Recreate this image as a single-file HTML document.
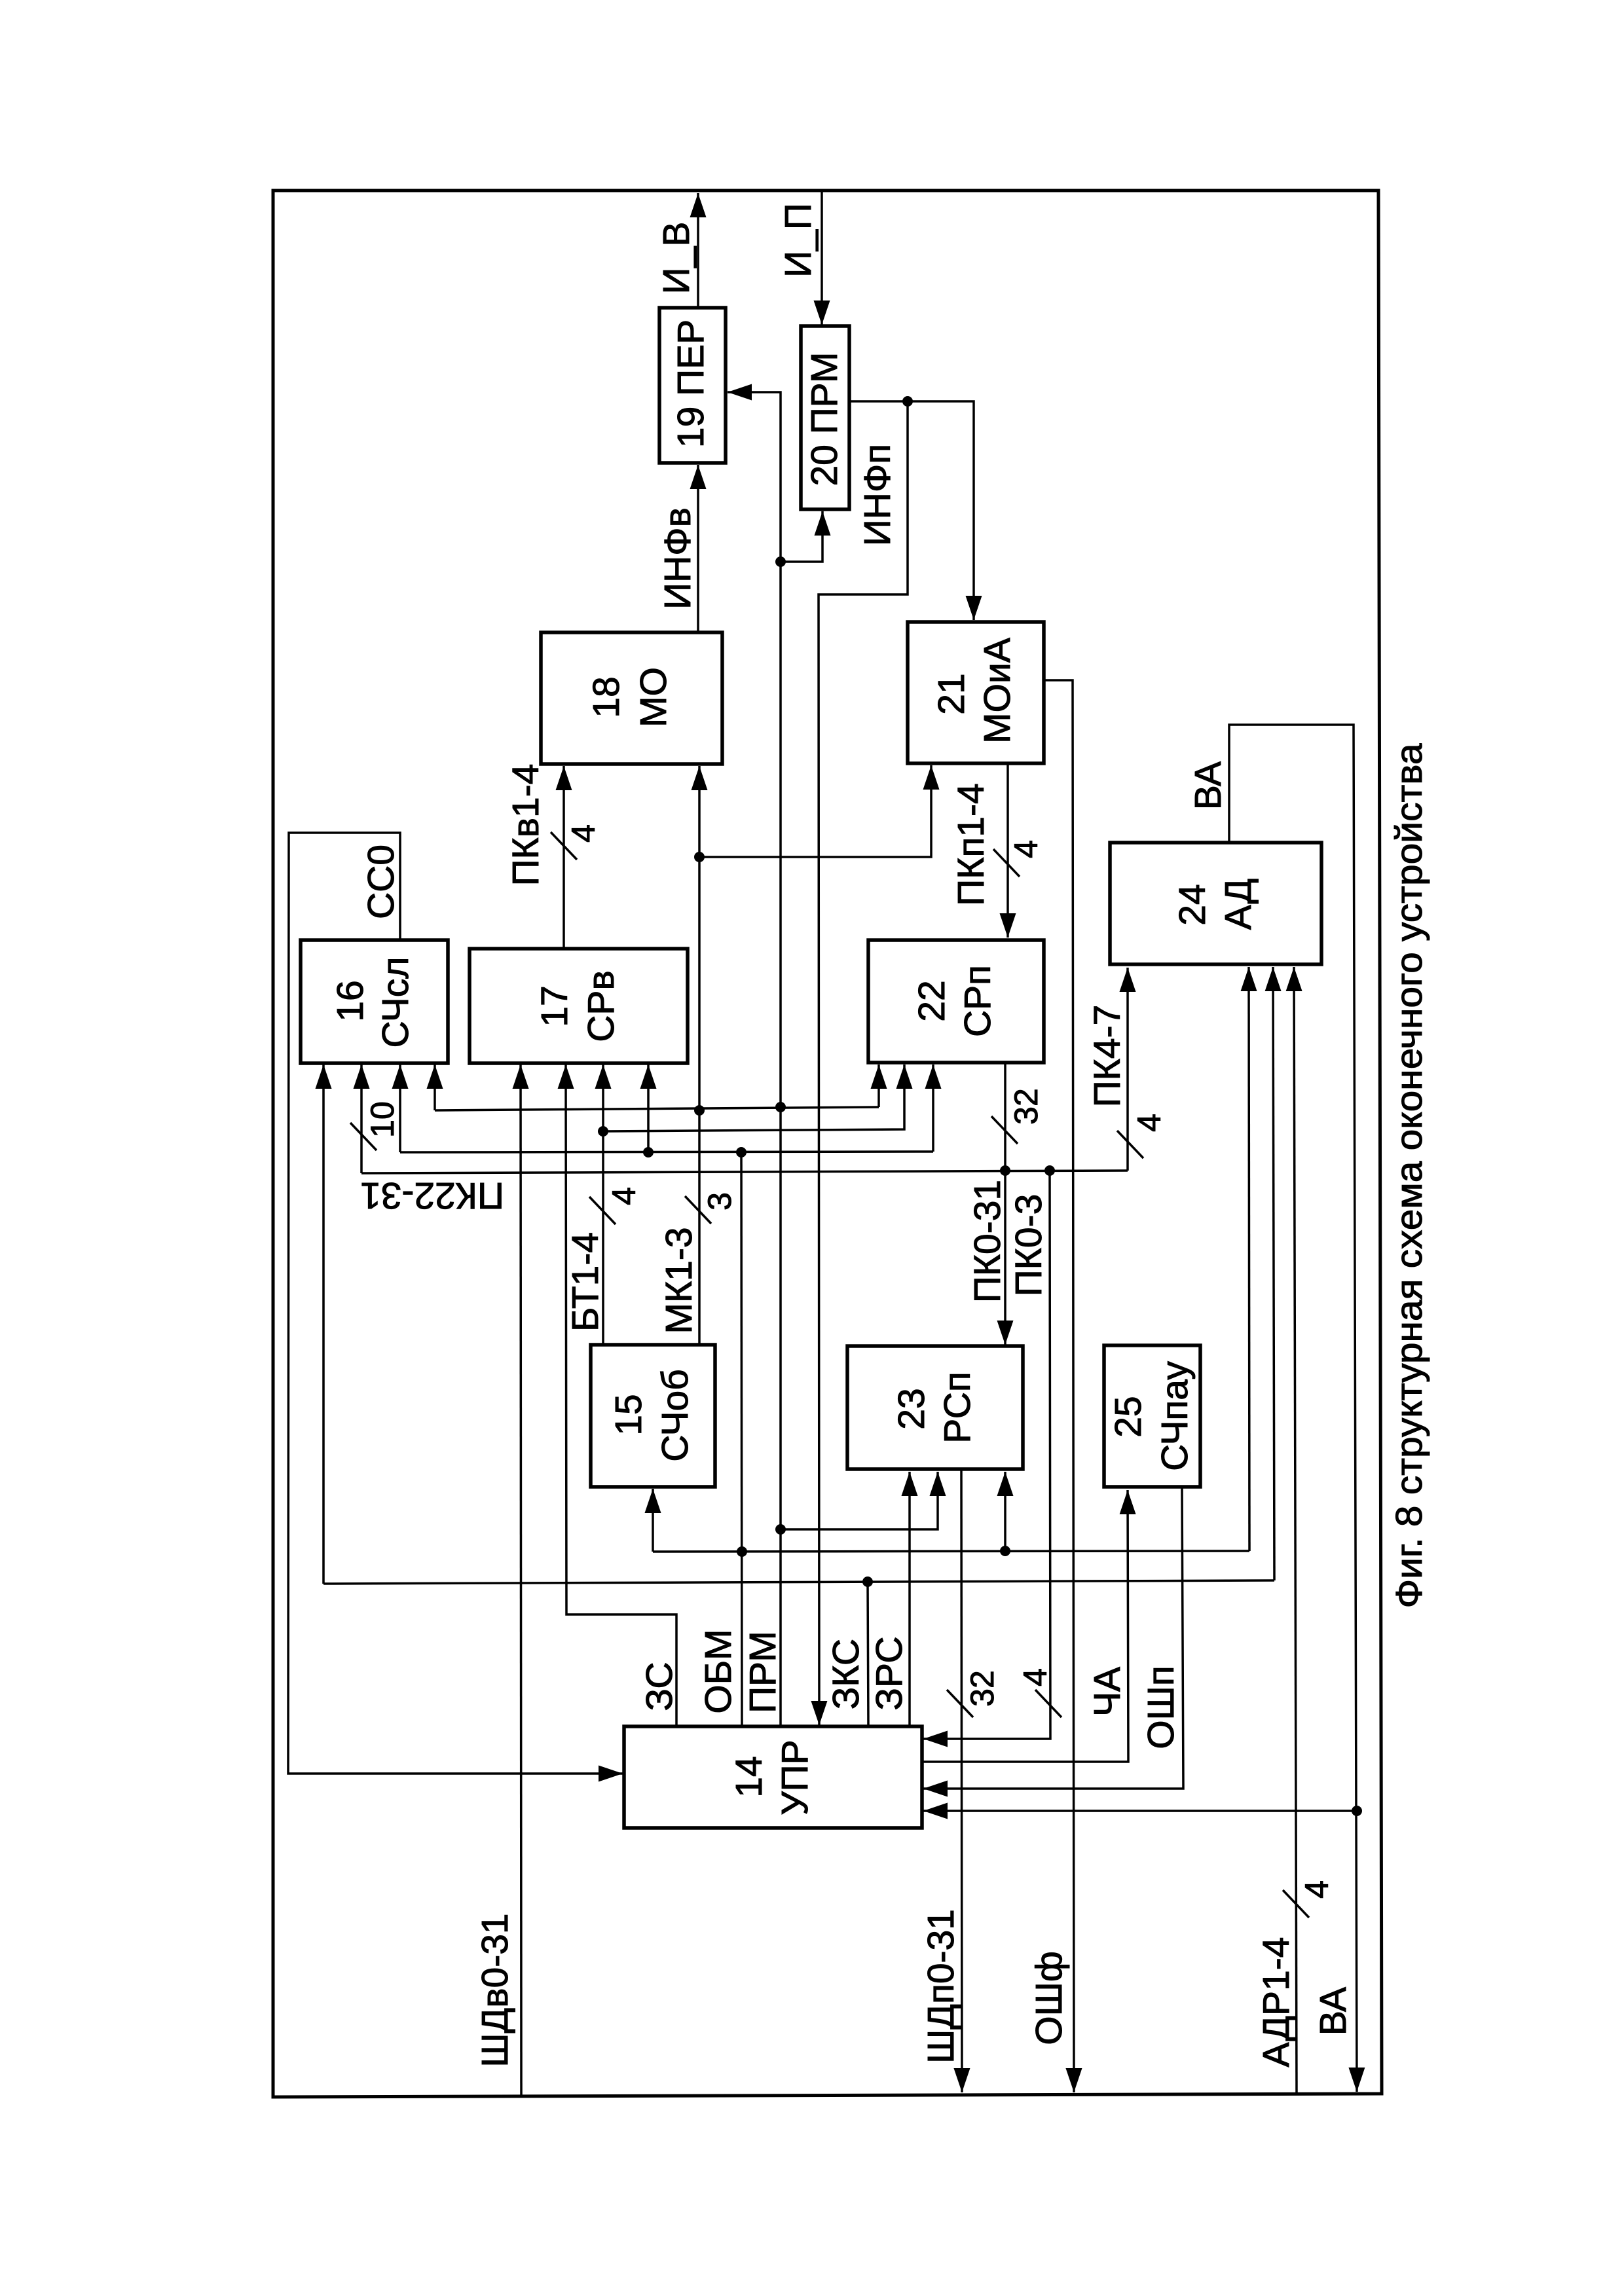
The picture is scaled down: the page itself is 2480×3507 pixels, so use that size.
<!DOCTYPE html>
<html><head><meta charset="utf-8"><style>
html,body{margin:0;padding:0;background:#fff}
svg{display:block}
text{font-family:"Liberation Sans","DejaVu Sans",sans-serif;font-size:57px;fill:#000;stroke:#000;stroke-width:1;text-anchor:middle}
.s{font-size:50px}
.l polyline,.l line{fill:none;stroke:#000;stroke-width:3.5}
.a{marker-end:url(#ah)}
.b rect{fill:none;stroke:#000;stroke-width:5.5}
</style></head><body>
<svg width="2480" height="3507" viewBox="0 0 2480 3507" xmlns="http://www.w3.org/2000/svg">
<defs><marker id="ah" markerUnits="userSpaceOnUse" markerWidth="37" markerHeight="25" refX="37" refY="12.5" orient="auto"><path d="M0,0L37,12.5L0,25z" fill="#000"/></marker></defs>
<rect width="2480" height="3507" fill="#fff"/>
<polygon points="417,291 2105,291 2110,3198 417,3203" fill="none" stroke="#000" stroke-width="5"/>
<g class="b">
<rect x="1007" y="470" width="101" height="237"/>
<rect x="1223" y="498" width="74" height="280"/>
<rect x="826" y="966" width="277" height="201"/>
<rect x="1386" y="950" width="208" height="216"/>
<rect x="459" y="1436" width="225" height="188"/>
<rect x="717" y="1449" width="333" height="175"/>
<rect x="1326" y="1436" width="268" height="187"/>
<rect x="1695" y="1287" width="323" height="186"/>
<rect x="902" y="2054" width="190" height="217"/>
<rect x="1294" y="2056" width="268" height="188"/>
<rect x="1686" y="2055" width="147" height="216"/>
<rect x="953" y="2637" width="455" height="155"/>
</g>
<g class="l">
<polyline class="a" points="1066,470 1066,295"/>
<polyline class="a" points="1255,291 1255,496"/>
<polyline class="a" points="1066,966 1066,710"/>
<polyline class="a" points="1192,2636 1192,599 1111,599"/>
<polyline class="a" points="1192,858 1256,858 1256,781"/>
<polyline class="a" points="1297,613 1487,613 1487,947"/>
<polyline class="a" points="1386,613 1386,908 1250,908 1251,2635"/>
<polyline class="a" points="1594,1039 1638,1039 1640,3196"/>
<polyline class="a" points="1068,2054 1068,1170"/>
<polyline class="a" points="1068,1309 1422,1309 1422,1169"/>
<polyline points="664,1696 1342,1691"/>
<polyline class="a" points="664,1696 664,1626"/>
<polyline class="a" points="1342,1691 1342,1626"/>
<polyline class="a" points="921,2054 921,1626"/>
<polyline class="a" points="921,1728 1381,1725 1381,1626"/>
<polyline points="611,1760 1425,1759"/>
<polyline class="a" points="611,1760 611,1626"/>
<polyline class="a" points="1425,1759 1425,1626"/>
<polyline class="a" points="990,1760 990,1626"/>
<polyline points="1133,2636 1132,1760"/>
<polyline points="997,2370 1908,2369"/>
<polyline class="a" points="997,2370 997,2274"/>
<polyline class="a" points="1908,2369 1907,1477"/>
<polyline class="a" points="1535,2369 1535,2248"/>
<polyline points="552,1792 1722,1788"/>
<polyline class="a" points="552,1792 552,1626"/>
<polyline class="a" points="1722,1788 1722,1478"/>
<polyline class="a" points="1535,1623 1535,2054"/>
<polyline class="a" points="1603,1788 1604,2656 1410,2656"/>
<polyline points="494,2419 1946,2414"/>
<polyline class="a" points="494,2419 494,1626"/>
<polyline class="a" points="1946,2414 1944,1477"/>
<polyline points="1325,2416 1326,2637"/>
<polyline class="a" points="1389,2637 1389,2248"/>
<polyline class="a" points="796,3203 795,1626"/>
<polyline class="a" points="1033,2637 1033,2466 865,2466 864,1626"/>
<polyline class="a" points="611,1436 611,1272 441,1272 440,2709 951,2709"/>
<polyline class="a" points="1877,1287 1877,1107 2067,1107 2072,3195"/>
<polyline class="a" points="2072,2766 1410,2766"/>
<polyline class="a" points="1980,3198 1976,1477"/>
<polyline class="a" points="1408,2691 1723,2691 1722,2276"/>
<polyline class="a" points="1805,2271 1807,2732 1410,2732"/>
<polyline class="a" points="1468,2244 1469,3196"/>
<polyline class="a" points="1539,1166 1539,1432"/>
<polyline class="a" points="861,1449 861,1170"/>
<polyline class="a" points="1192,2336 1432,2336 1432,2248"/>
<line x1="841" y1="1271" x2="881" y2="1313"/>
<line x1="535" y1="1715" x2="575" y2="1757"/>
<line x1="900" y1="1828" x2="940" y2="1870"/>
<line x1="1046" y1="1827" x2="1086" y2="1869"/>
<line x1="1517" y1="1297" x2="1557" y2="1339"/>
<line x1="1514" y1="1705" x2="1554" y2="1747"/>
<line x1="1706" y1="1727" x2="1746" y2="1769"/>
<line x1="1446" y1="2581" x2="1486" y2="2623"/>
<line x1="1581" y1="2581" x2="1621" y2="2623"/>
<line x1="1959" y1="2887" x2="1999" y2="2929"/>
</g>
<g fill="#000">
<circle cx="1192" cy="858" r="8"/><circle cx="1386" cy="613" r="8"/><circle cx="1068" cy="1309" r="8"/>
<circle cx="1068" cy="1696" r="8"/><circle cx="1192" cy="1691" r="8"/><circle cx="921" cy="1728" r="8"/>
<circle cx="990" cy="1760" r="8"/><circle cx="1132" cy="1760" r="8"/><circle cx="1133" cy="2370" r="8"/>
<circle cx="1192" cy="2336" r="8"/><circle cx="1535" cy="2369" r="8"/><circle cx="1325" cy="2416" r="8"/>
<circle cx="1535" cy="1788" r="8"/><circle cx="1603" cy="1788" r="8"/><circle cx="2072" cy="2766" r="8"/>
</g>
<text transform="translate(1052,394) rotate(-90)">И_В</text>
<text transform="translate(1238,367) rotate(-90)">И_П</text>
<text transform="translate(1074,586) rotate(-90)">19 ПЕР</text>
<text transform="translate(1278,640) rotate(-90)">20 ПРМ</text>
<text transform="translate(1054,853) rotate(-90)">ИНФв</text>
<text transform="translate(1359,756) rotate(-90)">ИНФп</text>
<text transform="translate(945,1065) rotate(-90)">18</text>
<text transform="translate(1017,1065) rotate(-90)">МО</text>
<text transform="translate(1472,1060) rotate(-90)">21</text>
<text transform="translate(1542,1055) rotate(-90)">МОиА</text>
<text transform="translate(822,1260) rotate(-90)">ПКв1-4</text>
<text transform="translate(601,1347) rotate(-90)">СС0</text>
<text transform="translate(554,1529) rotate(-90)">16</text>
<text transform="translate(623,1531) rotate(-90)">СЧсл</text>
<text transform="translate(866,1537) rotate(-90)">17</text>
<text transform="translate(937,1537) rotate(-90)">СРв</text>
<text transform="translate(660,1807) rotate(180)">ПК22-31</text>
<text transform="translate(913,1958) rotate(-90)">БТ1-4</text>
<text transform="translate(1056,1956) rotate(-90)">МК1-3</text>
<text transform="translate(979,2161) rotate(-90)">15</text>
<text transform="translate(1050,2162) rotate(-90)">СЧоб</text>
<text transform="translate(1527,1896) rotate(-90)">ПК0-31</text>
<text transform="translate(1590,1902) rotate(-90)">ПК0-3</text>
<text transform="translate(1442,1529) rotate(-90)">22</text>
<text transform="translate(1512,1529) rotate(-90)">СРп</text>
<text transform="translate(1502,1290) rotate(-90)">ПКп1-4</text>
<text transform="translate(1710,1613) rotate(-90)">ПК4-7</text>
<text transform="translate(1864,1200) rotate(-90)">ВА</text>
<text transform="translate(1840,1382) rotate(-90)">24</text>
<text transform="translate(1910,1381) rotate(-90)">АД</text>
<text transform="translate(2171,1796) rotate(-90)" textLength="1321" lengthAdjust="spacingAndGlyphs">Фиг. 8 структурная схема оконечного устройства</text>
<text transform="translate(1411,2152) rotate(-90)">23</text>
<text transform="translate(1481,2150) rotate(-90)">РСп</text>
<text transform="translate(1742,2164) rotate(-90)">25</text>
<text transform="translate(1813,2163) rotate(-90)">СЧпау</text>
<text transform="translate(1026,2576) rotate(-90)">ЗС</text>
<text transform="translate(1116,2553) rotate(-90)">ОБМ</text>
<text transform="translate(1184,2554) rotate(-90)">ПРМ</text>
<text transform="translate(1311,2557) rotate(-90)">ЗКС</text>
<text transform="translate(1377,2556) rotate(-90)">ЗРС</text>
<text transform="translate(1163,2714) rotate(-90)">14</text>
<text transform="translate(1233,2715) rotate(-90)">УПР</text>
<text transform="translate(1710,2584) rotate(-90)">ЧА</text>
<text transform="translate(1792,2608) rotate(-90)">ОШп</text>
<text transform="translate(775,3040) rotate(-90)">ШДв0-31</text>
<text transform="translate(1456,3034) rotate(-90)">ШДп0-31</text>
<text transform="translate(1621,3052) rotate(-90)">ОШф</text>
<text transform="translate(1968,3058) rotate(-90)">АДР1-4</text>
<text transform="translate(2055,3072) rotate(-90)">ВА</text>
<text class="s" transform="translate(908,1273) rotate(-90)">4</text>
<text class="s" transform="translate(601,1710) rotate(-90)">10</text>
<text class="s" transform="translate(970,1827) rotate(-90)">4</text>
<text class="s" transform="translate(1116,1835) rotate(-90)">3</text>
<text class="s" transform="translate(1584,1297) rotate(-90)">4</text>
<text class="s" transform="translate(1584,1690) rotate(-90)">32</text>
<text class="s" transform="translate(1772,1715) rotate(-90)">4</text>
<text class="s" transform="translate(1517,2579) rotate(-90)">32</text>
<text class="s" transform="translate(1598,2562) rotate(-90)">4</text>
<text class="s" transform="translate(2028,2886) rotate(-90)">4</text>
</svg>
</body></html>
